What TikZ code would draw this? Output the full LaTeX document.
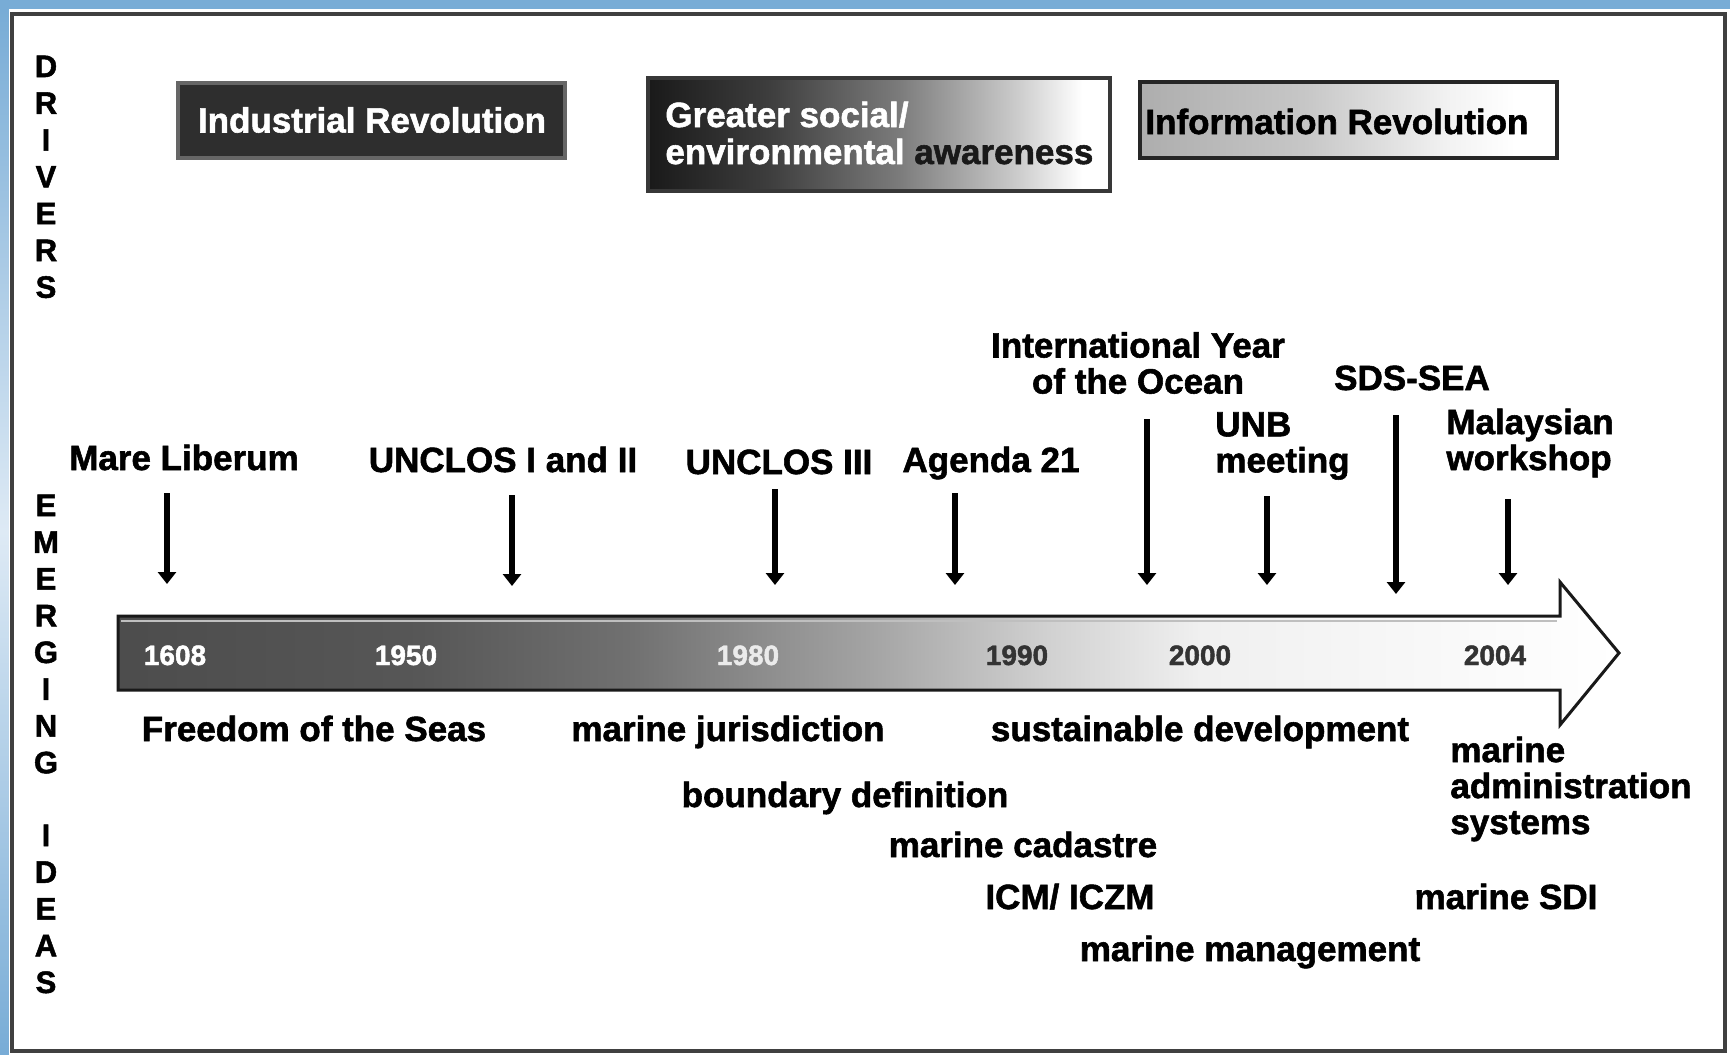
\documentclass[tikz,border=0pt]{standalone}
\usepackage{fontspec}
\setmainfont{Liberation Sans}[BoldFeatures={FakeBold=1.6}]
\usetikzlibrary{arrows.meta}
\definecolor{bgblue}{RGB}{120,172,214}
\definecolor{bgblueL}{RGB}{222,234,245}
\colorlet{tA}{black!70}\colorlet{tB}{black!66}\colorlet{tC}{black!56}\colorlet{tD}{black!36}\colorlet{tE}{black!18}\colorlet{tF}{black!6}
\colorlet{gA}{black!90}\colorlet{gB}{black!76}\colorlet{gC}{black!52}\colorlet{gD}{black!20}
\colorlet{iA}{black!32}\colorlet{iB}{black!22}\colorlet{iC}{black!5}
\pgfdeclarehorizontalshading{tlshade}{100bp}{color(0bp)=(tA); color(25bp)=(tA); color(35bp)=(tB); color(42bp)=(tC); color(50bp)=(tD); color(56bp)=(tE); color(61bp)=(tF); color(75bp)=(white); color(100bp)=(white)}
\pgfdeclarehorizontalshading{gsshade}{100bp}{color(0bp)=(gA); color(25bp)=(gA); color(38bp)=(gB); color(52bp)=(gC); color(65bp)=(gD); color(72bp)=(white); color(100bp)=(white)}
\pgfdeclarehorizontalshading{irshade}{100bp}{color(0bp)=(iA); color(25bp)=(iA); color(45bp)=(iB); color(62bp)=(iC); color(70bp)=(white); color(100bp)=(white)}
\begin{document}
\begin{tikzpicture}[x=0.5pt,y=-0.5pt,
  lbl/.style={font=\fontsize{17.5}{18}\selectfont\bfseries, inner sep=0pt},
  yr/.style={font=\fontsize{14}{16}\selectfont\bfseries, inner sep=0pt, anchor=base},
  side/.style={font=\fontsize{15.5}{16}\selectfont\bfseries, inner sep=0pt, anchor=base},
  evarr/.style={line width=2.7pt, -{Triangle[width=9pt,length=6pt]}}]
\useasboundingbox (0,0) rectangle (1730,1055);
% background and frame
\fill[bgblue] (0,0) rectangle (1730,9);
\shade[top color=bgblue, bottom color=bgblue, middle color=bgblueL] (0,9) rectangle (9,1055);
\fill[white] (9,9) rectangle (1730,1055);
\draw[black!75, line width=2pt] (12,14) rectangle (1725,1051);

% side labels
\foreach \l [count=\i] in {D,R,I,V,E,R,S}
  \node[side] (drv\i) at (46,{77+36.8*(\i-1)}) {\l};
\foreach \l [count=\i] in {E,M,E,R,G,I,N,G}
  \node[side] (emg\i) at (46,{516+36.75*(\i-1)}) {\l};
\foreach \l [count=\i] in {I,D,E,A,S}
  \node[side] (ids\i) at (46,{846+36.75*(\i-1)}) {\l};

% driver boxes
\fill[black!82] (178,83) rectangle (565,158);
\draw[black!60, line width=1.6pt] (178,83) rectangle (565,158);
\node[lbl, text=white] (ind) at (372,120) {Industrial Revolution};

\shadedraw[shading=gsshade, draw=black!78, line width=1.6pt] (648,78) rectangle (1110,191);
\node[lbl, text=white, anchor=base west] (gs1) at (665,127) {Greater social/};
\node[lbl, text=white, anchor=base west] (gs2) at (665,164) {environmental \textcolor{black!90}{awareness}};

\shadedraw[shading=irshade, draw=black!85, line width=1.6pt] (1140,82) rectangle (1557,158);
\node[lbl, anchor=base west] (inf) at (1145,134) {Information Revolution};

% timeline arrow
\shadedraw[shading=tlshade, draw=black!90, line width=1.5pt, line join=miter]
  (118,616) -- (1560,616) -- (1560,582) -- (1619,653) -- (1560,725) -- (1560,690) -- (118,690) -- cycle;
\draw[white!75!black, line width=0.8pt] (121,621) -- (1557,621);

% years
\node[yr, text=white] (y1608) at (175,665) {1608};
\node[yr, text=white] (y1950) at (406,665) {1950};
\node[yr, text=white!92!black] (y1980) at (748,665) {1980};
\node[yr, text=black!80] (y1990) at (1017,665) {1990};
\node[yr, text=black!80] (y2000) at (1200,665) {2000};
\node[yr, text=black!80] (y2004) at (1495,665) {2004};

% event labels
\node[lbl, anchor=base] (mare) at (184,470) {Mare Liberum};
\node[lbl, anchor=base] (unc12) at (503,472) {UNCLOS I and II};
\node[lbl, anchor=base] (unc3) at (779,474) {UNCLOS III};
\node[lbl, anchor=base] (ag21) at (991,472) {Agenda 21};
\node[lbl, align=center] (iyo) at (1138,363) {International Year\\of the Ocean};
\node[lbl, align=left, anchor=west] (unb) at (1215,446) {UNB\\meeting};
\node[lbl, anchor=base] (sds) at (1412,390) {SDS-SEA};
\node[lbl, align=left, anchor=west] (mal) at (1446,443) {Malaysian\\workshop};

% event arrows
\coordinate (a1s) at (167,493);  \coordinate (a1e) at (167,584);
\coordinate (a2s) at (512,495);  \coordinate (a2e) at (512,586);
\coordinate (a3s) at (775,489);  \coordinate (a3e) at (775,585);
\coordinate (a4s) at (955,493);  \coordinate (a4e) at (955,585);
\coordinate (a5s) at (1147,419); \coordinate (a5e) at (1147,585);
\coordinate (a6s) at (1267,496); \coordinate (a6e) at (1267,585);
\coordinate (a7s) at (1396,415); \coordinate (a7e) at (1396,594);
\coordinate (a8s) at (1508,499); \coordinate (a8e) at (1508,585);
\foreach \k in {1,...,8} \draw[evarr] (a\k s) -- (a\k e);

% emerging ideas
\node[lbl, anchor=base] (fos) at (314,741) {Freedom of the Seas};
\node[lbl, anchor=base] (mj) at (728,741) {marine jurisdiction};
\node[lbl, anchor=base] (sd) at (1200,741) {sustainable development};
\node[lbl, align=left, anchor=west] (mas) at (1450,789) {marine\\administration\\systems};
\node[lbl, anchor=base] (bd) at (845,807) {boundary definition};
\node[lbl, anchor=base] (mc) at (1023,857) {marine cadastre};
\node[lbl, anchor=base] (icm) at (1070,909) {ICM/ ICZM};
\node[lbl, anchor=base] (msdi) at (1506,909) {marine SDI};
\node[lbl, anchor=base] (mm) at (1250,961) {marine management};
\end{tikzpicture}
\end{document}
